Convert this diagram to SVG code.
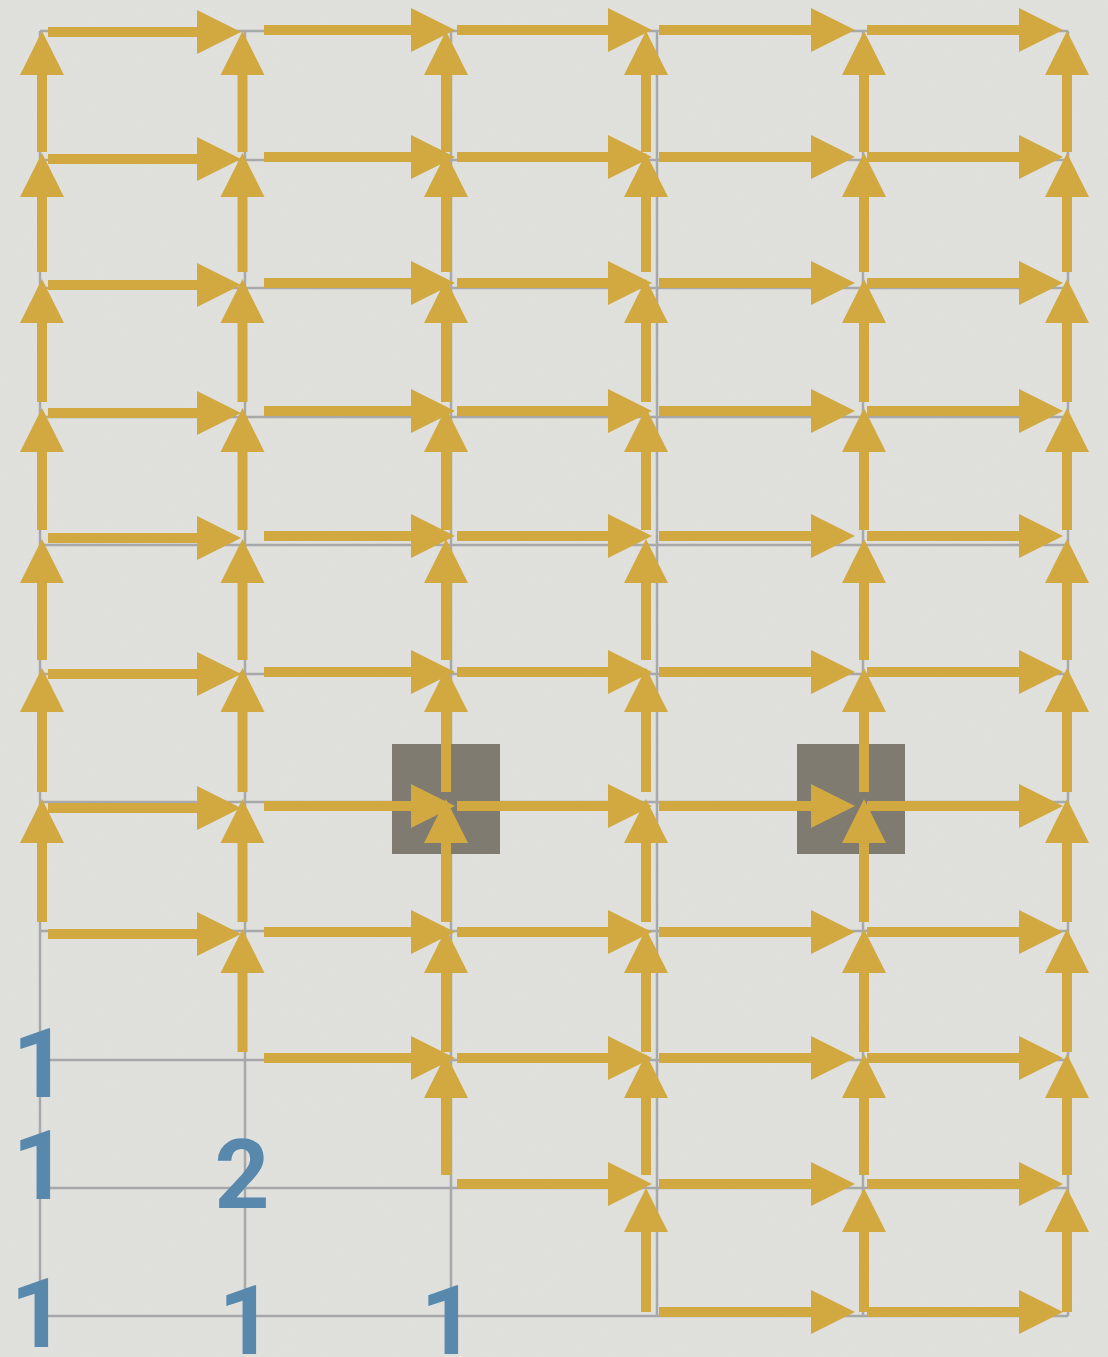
<svg xmlns="http://www.w3.org/2000/svg" width="1108" height="1357" viewBox="0 0 1108 1357">
<style>
.bg{fill:#e1e1dd}
.grid line{stroke:#a7a8aa;stroke-width:2.5}
.blk{fill:#7f7b71}
.conn line{stroke:#d2a940;stroke-width:10;marker-end:url(#ah)}
.lbl{font-family:Roboto,"Noto Sans","Liberation Sans",sans-serif;font-weight:bold;font-size:96px;fill:#5889ad;text-anchor:middle}
</style>
<defs>
<marker id="ah" markerUnits="userSpaceOnUse" markerWidth="46" markerHeight="46" viewBox="0 -23 46 46" refX="2" refY="0" orient="auto">
<path d="M0,-22 L44,0 L0,22 Z" fill="#d2a940"/>
</marker>
<filter id="paper" x="0" y="0" width="100%" height="100%">
<feTurbulence type="fractalNoise" baseFrequency="0.9" numOctaves="2" seed="3" result="n"/>
<feColorMatrix in="n" type="matrix" values="0 0 0 0 0.5  0 0 0 0 0.5  0 0 0 0 0.5  0 0 0 0.08 0"/>
</filter>
</defs>
<rect class="bg" x="0" y="0" width="1108" height="1357"/>
<rect x="0" y="0" width="1108" height="1357" filter="url(#paper)" fill="none"/>
<g id="grid" class="grid">
<line x1="40" y1="31" x2="40" y2="1316"/>
<line x1="245" y1="31" x2="245" y2="1316"/>
<line x1="451" y1="31" x2="451" y2="1316"/>
<line x1="657" y1="31" x2="657" y2="1316"/>
<line x1="863" y1="31" x2="863" y2="1316"/>
<line x1="1068" y1="31" x2="1068" y2="1316"/>
<line x1="40" y1="31" x2="1068" y2="31"/>
<line x1="40" y1="160" x2="1068" y2="160"/>
<line x1="40" y1="288" x2="1068" y2="288"/>
<line x1="40" y1="417" x2="1068" y2="417"/>
<line x1="40" y1="545" x2="1068" y2="545"/>
<line x1="40" y1="674" x2="1068" y2="674"/>
<line x1="40" y1="802" x2="1068" y2="802"/>
<line x1="40" y1="931" x2="1068" y2="931"/>
<line x1="40" y1="1060" x2="1068" y2="1060"/>
<line x1="40" y1="1188" x2="1068" y2="1188"/>
<line x1="40" y1="1316" x2="1068" y2="1316"/>
</g>
<g id="block-1"><rect class="blk" x="392" y="744" width="108" height="110"/></g>
<g id="block-2"><rect class="blk" x="797" y="744" width="108" height="110"/></g>
<g id="connectors" class="conn">
<line x1="48" y1="32" x2="199" y2="32"/>
<line x1="264" y1="30" x2="413" y2="30"/>
<line x1="457" y1="30" x2="610" y2="30"/>
<line x1="659" y1="30" x2="813" y2="30"/>
<line x1="867" y1="30" x2="1021" y2="30"/>
<line x1="48" y1="159" x2="199" y2="159"/>
<line x1="264" y1="157" x2="413" y2="157"/>
<line x1="457" y1="157" x2="610" y2="157"/>
<line x1="659" y1="157" x2="813" y2="157"/>
<line x1="867" y1="157" x2="1021" y2="157"/>
<line x1="48" y1="285" x2="199" y2="285"/>
<line x1="264" y1="283" x2="413" y2="283"/>
<line x1="457" y1="283" x2="610" y2="283"/>
<line x1="659" y1="283" x2="813" y2="283"/>
<line x1="867" y1="283" x2="1021" y2="283"/>
<line x1="48" y1="413" x2="199" y2="413"/>
<line x1="264" y1="411" x2="413" y2="411"/>
<line x1="457" y1="411" x2="610" y2="411"/>
<line x1="659" y1="411" x2="813" y2="411"/>
<line x1="867" y1="411" x2="1021" y2="411"/>
<line x1="48" y1="538" x2="199" y2="538"/>
<line x1="264" y1="536" x2="413" y2="536"/>
<line x1="457" y1="536" x2="610" y2="536"/>
<line x1="659" y1="536" x2="813" y2="536"/>
<line x1="867" y1="536" x2="1021" y2="536"/>
<line x1="48" y1="674" x2="199" y2="674"/>
<line x1="264" y1="672" x2="413" y2="672"/>
<line x1="457" y1="672" x2="610" y2="672"/>
<line x1="659" y1="672" x2="813" y2="672"/>
<line x1="867" y1="672" x2="1021" y2="672"/>
<line x1="48" y1="808" x2="199" y2="808"/>
<line x1="264" y1="806" x2="413" y2="806"/>
<line x1="457" y1="806" x2="610" y2="806"/>
<line x1="659" y1="806" x2="813" y2="806"/>
<line x1="867" y1="806" x2="1021" y2="806"/>
<line x1="48" y1="934" x2="199" y2="934"/>
<line x1="264" y1="932" x2="413" y2="932"/>
<line x1="457" y1="932" x2="610" y2="932"/>
<line x1="659" y1="932" x2="813" y2="932"/>
<line x1="867" y1="932" x2="1021" y2="932"/>
<line x1="264" y1="1058" x2="413" y2="1058"/>
<line x1="457" y1="1058" x2="610" y2="1058"/>
<line x1="659" y1="1058" x2="813" y2="1058"/>
<line x1="867" y1="1058" x2="1021" y2="1058"/>
<line x1="457" y1="1184" x2="610" y2="1184"/>
<line x1="659" y1="1184" x2="813" y2="1184"/>
<line x1="867" y1="1184" x2="1021" y2="1184"/>
<line x1="659" y1="1312" x2="813" y2="1312"/>
<line x1="867" y1="1312" x2="1021" y2="1312"/>
<line x1="42" y1="152" x2="42" y2="73"/>
<line x1="42" y1="272" x2="42" y2="195"/>
<line x1="42" y1="402" x2="42" y2="321"/>
<line x1="42" y1="530" x2="42" y2="450"/>
<line x1="42" y1="660" x2="42" y2="581"/>
<line x1="42" y1="792" x2="42" y2="710"/>
<line x1="42" y1="922" x2="42" y2="841"/>
<line x1="242.5" y1="152" x2="242.5" y2="73"/>
<line x1="242.5" y1="272" x2="242.5" y2="195"/>
<line x1="242.5" y1="402" x2="242.5" y2="321"/>
<line x1="242.5" y1="530" x2="242.5" y2="450"/>
<line x1="242.5" y1="660" x2="242.5" y2="581"/>
<line x1="242.5" y1="792" x2="242.5" y2="710"/>
<line x1="242.5" y1="922" x2="242.5" y2="841"/>
<line x1="242.5" y1="1052" x2="242.5" y2="971"/>
<line x1="446" y1="152" x2="446" y2="73"/>
<line x1="446" y1="272" x2="446" y2="195"/>
<line x1="446" y1="402" x2="446" y2="321"/>
<line x1="446" y1="530" x2="446" y2="450"/>
<line x1="446" y1="660" x2="446" y2="581"/>
<line x1="446" y1="792" x2="446" y2="710"/>
<line x1="446" y1="922" x2="446" y2="841"/>
<line x1="446" y1="1052" x2="446" y2="971"/>
<line x1="446" y1="1175" x2="446" y2="1096"/>
<line x1="646" y1="152" x2="646" y2="73"/>
<line x1="646" y1="272" x2="646" y2="195"/>
<line x1="646" y1="402" x2="646" y2="321"/>
<line x1="646" y1="530" x2="646" y2="450"/>
<line x1="646" y1="660" x2="646" y2="581"/>
<line x1="646" y1="792" x2="646" y2="710"/>
<line x1="646" y1="922" x2="646" y2="841"/>
<line x1="646" y1="1052" x2="646" y2="971"/>
<line x1="646" y1="1175" x2="646" y2="1096"/>
<line x1="646" y1="1312" x2="646" y2="1230"/>
<line x1="864" y1="152" x2="864" y2="73"/>
<line x1="864" y1="272" x2="864" y2="195"/>
<line x1="864" y1="402" x2="864" y2="321"/>
<line x1="864" y1="530" x2="864" y2="450"/>
<line x1="864" y1="660" x2="864" y2="581"/>
<line x1="864" y1="792" x2="864" y2="710"/>
<line x1="864" y1="922" x2="864" y2="841"/>
<line x1="864" y1="1052" x2="864" y2="971"/>
<line x1="864" y1="1175" x2="864" y2="1096"/>
<line x1="864" y1="1312" x2="864" y2="1230"/>
<line x1="1067" y1="152" x2="1067" y2="73"/>
<line x1="1067" y1="272" x2="1067" y2="195"/>
<line x1="1067" y1="402" x2="1067" y2="321"/>
<line x1="1067" y1="530" x2="1067" y2="450"/>
<line x1="1067" y1="660" x2="1067" y2="581"/>
<line x1="1067" y1="792" x2="1067" y2="710"/>
<line x1="1067" y1="922" x2="1067" y2="841"/>
<line x1="1067" y1="1052" x2="1067" y2="971"/>
<line x1="1067" y1="1175" x2="1067" y2="1096"/>
<line x1="1067" y1="1312" x2="1067" y2="1230"/>
</g>
<g id="labels">
<g id="label-c0-r8"><text class="lbl" x="40" y="1097">1</text></g>
<g id="label-c0-r9"><text class="lbl" x="40" y="1199">1</text></g>
<g id="label-c0-r10"><text class="lbl" x="38" y="1347">1</text></g>
<g id="label-c1-r9"><text class="lbl" x="242" y="1208">2</text></g>
<g id="label-c1-r10"><text class="lbl" x="246" y="1354">1</text></g>
<g id="label-c2-r10"><text class="lbl" x="448" y="1354">1</text></g>
</g>
</svg>
